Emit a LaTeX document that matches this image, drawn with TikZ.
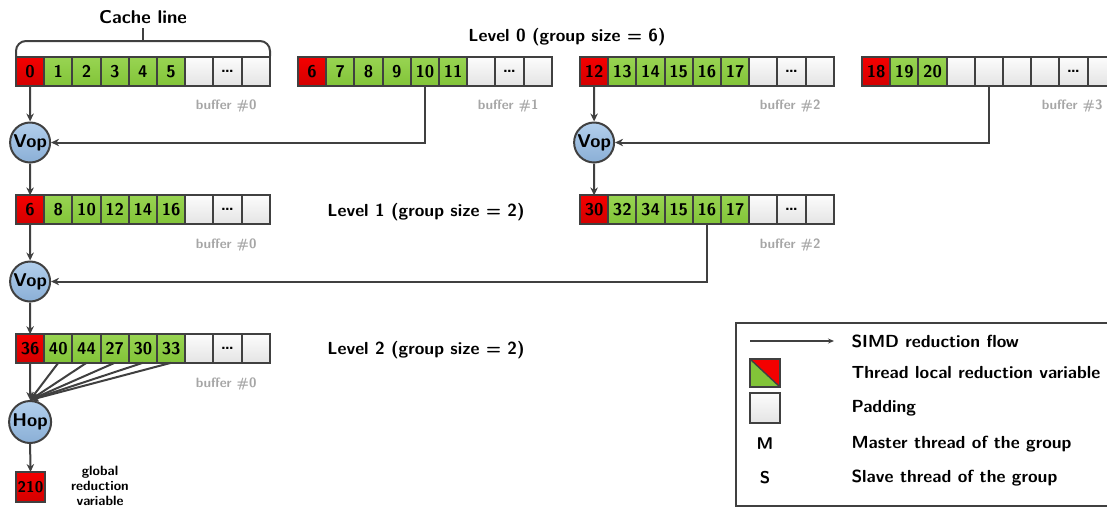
\documentclass[tikz,border=0pt]{standalone}
\usepackage{fontspec}
\usetikzlibrary{arrows.meta}

\definecolor{edge}{HTML}{404040}
\definecolor{topr}{HTML}{F40000}
\definecolor{botr}{HTML}{D40000}
\definecolor{topg}{HTML}{98D452}
\definecolor{botg}{HTML}{82C438}
\definecolor{tope}{HTML}{FCFCFC}
\definecolor{bote}{HTML}{E4E4E4}
\definecolor{opt}{HTML}{B2CFEC}
\definecolor{opb}{HTML}{8AAFD6}
\definecolor{note}{HTML}{A6A6A6}

\tikzset{
  cell/.style={draw=edge, line width=2pt, minimum width=28.2pt, minimum height=28.6pt,
    inner sep=0pt, outer sep=0pt, font=\sffamily\bfseries\fontsize{17}{17}\selectfont},
  opnode/.style={circle, draw=edge, line width=2pt, minimum size=40pt, inner sep=0pt,
    top color=opt, bottom color=opb, font=\sffamily\bfseries\fontsize{18.5}{18.5}\selectfont},
  flow/.style={draw=edge, line width=2pt, -{Stealth[length=8pt,width=7.5pt]}},
  level/.style={font=\sffamily\bfseries\fontsize{17.5}{17.5}\selectfont},
  buflabel/.style={text=note, anchor=east, font=\sffamily\bfseries\fontsize{13.5}{13.5}\selectfont},
  legtext/.style={anchor=west, font=\sffamily\bfseries\fontsize{17.5}{17.5}\selectfont},
}

% one buffer: name, left x, centre y, list of type/label pairs
\newcommand\bufferrow[4]{%
  \foreach [count=\i from 0] \t/\l in {#4} {
    \node[cell, top color=top\t, bottom color=bot\t] (#1-\i) at ({#2+(\i+0.5)*28.2}, #3) {\l};
  }%
}

\begin{document}
\begin{tikzpicture}[x=1pt, y=-1pt]
\useasboundingbox (0,0) rectangle (1107,507);

% ---- level 0 ----
\bufferrow{a0}{16}{71.5}{r/0,g/1,g/2,g/3,g/4,g/5,e/,e/\dots,e/}
\bufferrow{a1}{298}{71.5}{r/6,g/7,g/8,g/9,g/10,g/11,e/,e/\dots,e/}
\bufferrow{a2}{580}{71.5}{r/12,g/13,g/14,g/15,g/16,g/17,e/,e/\dots,e/}
\bufferrow{a3}{862}{71.5}{r/18,g/19,g/20,e/,e/,e/,e/,e/\dots,e/}

\node[buflabel] (la0) at (260,106) {buffer \#0};
\node[buflabel] (la1) at (542,106) {buffer \#1};
\node[buflabel] (la2) at (824,106) {buffer \#2};
\node[buflabel] (la3) at (1106,106) {buffer \#3};

\node[level] (lev0) at (567,37) {Level 0 (group size = 6)};

% cache line brace
\draw[edge, line width=2pt, rounded corners=10pt] (16,56) -- (16,41) -- (270,41) -- (270,56);
\draw[edge, line width=2pt] (143,41) -- (143,28);
\node[font=\sffamily\bfseries\fontsize{18.5}{18.5}\selectfont] (cache) at (143,17) {Cache line};

\node[opnode] (v1) at (30.1,142.5) {Vop};
\node[opnode] (v2) at (594.1,142.5) {Vop};

\draw[flow] (a0-0.south) -- (v1.north);
\draw[flow] (a1-4.south) |- (v1.east);
\draw[flow] (a2-0.south) -- (v2.north);
\draw[flow] (a3-4.south) |- (v2.east);

% ---- level 1 ----
\bufferrow{b0}{16}{209.7}{r/6,g/8,g/10,g/12,g/14,g/16,e/,e/\dots,e/}
\bufferrow{b2}{580}{209.7}{r/30,g/32,g/34,g/15,g/16,g/17,e/,e/\dots,e/}

\node[buflabel] (lb0) at (260,245) {buffer \#0};
\node[buflabel] (lb2) at (824,245) {buffer \#2};
\node[level] (lev1) at (426,212) {Level 1 (group size = 2)};

\draw[flow] (v1.south) -- (b0-0.north);
\draw[flow] (v2.south) -- (b2-0.north);

\node[opnode] (v3) at (30.1,281.5) {Vop};
\draw[flow] (b0-0.south) -- (v3.north);
\draw[flow] (b2-4.south) |- (v3.east);

% ---- level 2 ----
\bufferrow{c0}{16}{348.5}{r/36,g/40,g/44,g/27,g/30,g/33,e/,e/\dots,e/}
\node[buflabel] (lc0) at (260,384) {buffer \#0};
\node[level] (lev2) at (426,350) {Level 2 (group size = 2)};

\draw[flow] (v3.south) -- (c0-0.north);

\node[opnode, minimum size=42pt] (hop) at (30.1,422) {Hop};
\draw[flow] (c0-0.south) -- (hop.north);
\foreach \i in {1,...,5} \draw[flow] (c0-\i.south) -- (hop.north);

\node[cell, top color=topr, bottom color=botr, minimum width=29pt, minimum height=30pt,
      font=\sffamily\bfseries\fontsize{15.5}{15.5}\selectfont] (glob) at (30.5,487) {210};
\draw[flow] (hop.south) -- (glob.north);
\node[align=center, font=\sffamily\bfseries\fontsize{13.5}{15}\selectfont] (globtext) at (100,485.5)
  {global\\reduction\\variable};

% ---- legend ----
\draw[edge, line width=1.6pt] (736,323) rectangle (1130,506);
\coordinate (arrA) at (750,341);
\coordinate (arrB) at (834,341);
\draw[draw=edge, line width=1.5pt, -{Stealth[length=6pt,width=5pt]}] (arrA) -- (arrB);
\node[legtext] (t1) at (848,341) {SIMD reduction flow};

\fill[botg] (750,359) -- (750,387) -- (780,387) -- cycle;
\fill[topr] (750,359) -- (780,359) -- (780,387) -- cycle;
\draw[edge, line width=1.4pt] (750,359) -- (780,387);
\draw[edge, line width=2pt] (750,359) rectangle (780,387);
\node[legtext] (t2) at (848,373) {Thread local reduction variable};

\node[cell, top color=tope, bottom color=bote, minimum width=30pt, minimum height=30pt] (pad) at (765,408) {};
\node[legtext] (t3) at (848,408) {Padding};

\node[font=\sffamily\bfseries\fontsize{17}{17}\selectfont] (mm) at (765,444) {M};
\node[legtext] (t4) at (848,444) {Master thread of the group};
\node[font=\sffamily\bfseries\fontsize{17}{17}\selectfont] (ss) at (765,478) {S};
\node[legtext] (t5) at (848,478) {Slave thread of the group};
\end{tikzpicture}
\end{document}
